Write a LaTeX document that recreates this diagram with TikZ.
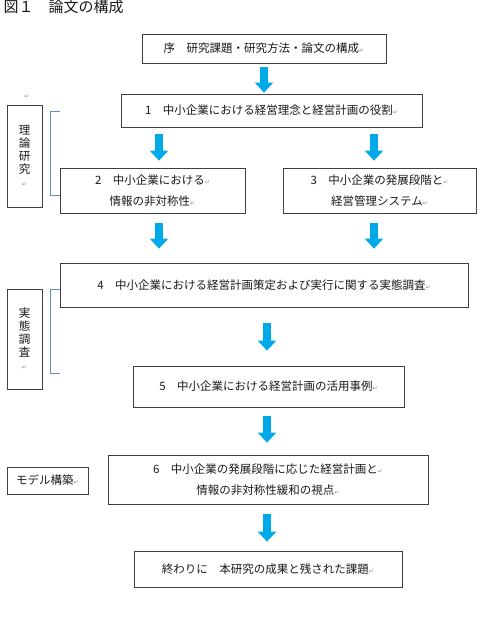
\documentclass[tikz,border=0pt]{standalone}
\usepackage{fontspec}
\setmainfont{Noto Sans CJK JP}
\newfontfamily\markfont{DejaVu Sans}
\usepackage{tikz}
\usetikzlibrary{positioning,arrows.meta}
\definecolor{flowblue}{RGB}{0,170,232}
\definecolor{bracketblue}{RGB}{105,140,190}
\newcommand{\ret}{{\markfont\fontsize{6}{6}\selectfont\textcolor{black!45}{↵}}}

\begin{document}
\begin{tikzpicture}[x=1pt, y=-1pt,
    every node/.style={font=\fontsize{11.5}{21}\selectfont, text=black!90},
    chapter/.style={draw=black!75, line width=0.8pt, align=center, inner sep=0pt},
    side/.style={draw=black!75, line width=0.8pt, align=center, inner sep=0pt},
    flow/.style={-{Triangle[width=18pt, length=10pt]}, line width=8pt, flowblue},
    bracket/.style={bracketblue, line width=0.8pt},
]
\useasboundingbox (0,0) rectangle (479,626);

% Title
\node[anchor=base west, font=\fontsize{15}{15}\selectfont] (title) at (0,13)
    {図１　論文の構成};

% Chapters
\node[chapter, minimum width=244pt, minimum height=29pt] (intro) at (264,48.5)
    {序　研究課題・研究方法・論文の構成\ret};
\node[chapter, minimum width=301pt, minimum height=33pt] (ch1) at (271.5,110.5)
    {1　中小企業における経営理念と経営計画の役割\ret};
\node[chapter, minimum width=185pt, minimum height=45pt] (ch2) at (152.5,190.5)
    {2　中小企業における\ret\\情報の非対称性\ret};
\node[chapter, minimum width=193pt, minimum height=45pt] (ch3) at (379.5,190.5)
    {3　中小企業の発展段階と\ret\\経営管理システム\ret};
\node[chapter, minimum width=408pt, minimum height=44pt] (ch4) at (264,285)
    {4　中小企業における経営計画策定および実行に関する実態調査\ret};
\node[chapter, minimum width=271pt, minimum height=41pt] (ch5) at (268.5,386.5)
    {5　中小企業における経営計画の活用事例\ret};
\node[chapter, minimum width=320pt, minimum height=49pt] (ch6) at (268,479.5)
    {6　中小企業の発展段階に応じた経営計画と\ret\\情報の非対称性緩和の視点\ret};
\node[chapter, minimum width=268pt, minimum height=36pt] (concl) at (268,569)
    {終わりに　本研究の成果と残された課題\ret};

% Side labels
\node (stray) at (27,97) {\ret};
\node[side, minimum width=35pt, minimum height=102pt,
      font=\fontsize{11.5}{13}\selectfont] (theory) at (24.5,156)
    {理\\論\\研\\究\\\ret};
\node[side, minimum width=35pt, minimum height=100pt,
      font=\fontsize{11.5}{13}\selectfont] (survey) at (24.5,339)
    {実\\態\\調\\査\\\ret};
\node[side, minimum width=81pt, minimum height=27pt] (model) at (47.5,480.5)
    {モデル構築\ret};

% Brackets
\draw[bracket] ([xshift=18pt,yshift=-7pt]theory.north east)
    -| ([xshift=8pt,yshift=12pt]theory.south east) -- ++(10pt,0);
\draw[bracket] ([xshift=18pt,yshift=-1pt]survey.north east)
    -| ([xshift=8pt,yshift=16pt]survey.south east) -- ++(10pt,0);

% Arrows
\draw[flow, shorten <=4pt, shorten >=1pt] (intro.south) -- (intro.south |- ch1.north);
\draw[flow, shorten <=7pt, shorten >=7pt]
    ([xshift=6.5pt]ch2.north |- ch1.south) -- ([xshift=6.5pt]ch2.north);
\draw[flow, shorten <=7pt, shorten >=7pt]
    ([xshift=-5.5pt]ch3.north |- ch1.south) -- ([xshift=-5.5pt]ch3.north);
\draw[flow, shorten <=10pt, shorten >=14pt]
    ([xshift=6.5pt]ch2.south) -- ([xshift=6.5pt]ch2.south |- ch4.north);
\draw[flow, shorten <=10pt, shorten >=14pt]
    ([xshift=-5.5pt]ch3.south) -- ([xshift=-5.5pt]ch3.south |- ch4.north);
\draw[flow, shorten <=16pt, shorten >=15pt]
    ([xshift=-1.5pt]ch5.north |- ch4.south) -- ([xshift=-1.5pt]ch5.north);
\draw[flow, shorten <=9pt, shorten >=12pt]
    ([xshift=-1.5pt]ch5.south) -- ([xshift=-1.5pt]ch5.south |- ch6.north);
\draw[flow, shorten <=10pt, shorten >=9pt]
    ([xshift=-1pt]concl.north |- ch6.south) -- ([xshift=-1pt]concl.north);
\end{tikzpicture}
\end{document}
